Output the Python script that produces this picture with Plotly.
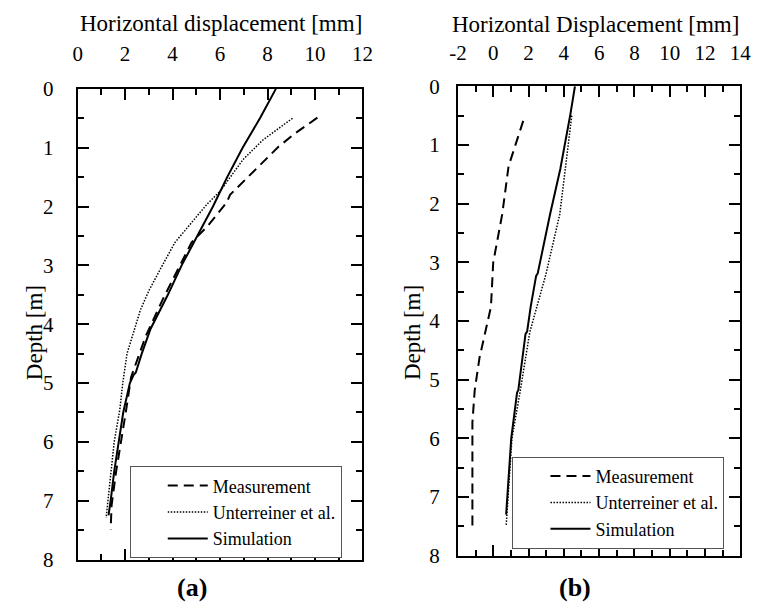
import plotly.graph_objects as go

# ---- Panel (a) data: depth [m] vs horizontal displacement [mm] ----
a_meas_depth = [0.49, 0.76, 0.98, 1.36, 1.80, 1.93, 2.34, 2.61, 3.16, 3.59, 4.20, 4.90, 5.44, 6.04, 6.53, 7.08, 7.49]
a_meas_disp = [10.1, 9.15, 8.47, 7.51, 6.42, 6.28, 5.46, 4.80, 4.10, 3.57, 2.87, 2.25, 2.05, 1.80, 1.61, 1.43, 1.39]

a_unt_depth = [0.50, 0.87, 1.20, 1.74, 1.96, 2.61, 3.05, 3.43, 3.75, 4.08, 4.50, 5.00, 5.44, 6.00, 6.53, 7.08, 7.29]
a_unt_disp = [9.05, 7.80, 6.97, 6.00, 5.45, 4.10, 3.50, 3.00, 2.65, 2.40, 2.08, 1.90, 1.78, 1.54, 1.41, 1.26, 1.20]

a_sim_depth = [0.0, 0.5, 1.0, 1.5, 2.0, 2.5, 3.0, 3.5, 3.84, 4.08, 4.5, 4.82, 4.86, 5.0, 5.5, 6.0, 6.5, 7.0, 7.25]
a_sim_disp = [8.35, 7.68, 6.95, 6.30, 5.70, 5.05, 4.38, 3.80, 3.36, 3.07, 2.70, 2.45, 2.36, 2.20, 1.92, 1.72, 1.54, 1.39, 1.30]

# ---- Panel (b) data ----
b_meas_depth = [0.59, 1.36, 2.18, 3.00, 3.76, 4.19, 4.63, 5.18, 5.73, 7.50]
b_meas_disp = [1.70, 0.87, 0.51, 0.00, -0.13, -0.45, -0.78, -1.05, -1.18, -1.18]

b_unt_depth = [0.50, 1.41, 2.18, 3.21, 3.76, 4.19, 5.21, 6.00, 7.50]
b_unt_disp = [4.45, 4.08, 3.77, 2.98, 2.49, 2.07, 1.52, 1.06, 0.73]

b_sim_depth = [0.0, 0.48, 1.41, 2.18, 3.19, 3.23, 3.76, 4.18, 4.22, 5.18, 5.22, 6.00, 7.30]
b_sim_disp = [4.63, 4.37, 3.80, 3.22, 2.52, 2.43, 2.12, 1.92, 1.83, 1.42, 1.35, 1.02, 0.73]

series_names = ["Measurement", "Unterreiner et al.", "Simulation"]

# axis ranges and tick labels
a_xrange = [0, 12]
b_xrange = [-2, 14]
a_xticks = [0, 2, 4, 6, 8, 10, 12]
b_xticks = [-2, 0, 2, 4, 6, 8, 10, 12, 14]
depth_range = [8, 0]
depth_ticks = [0, 1, 2, 3, 4, 5, 6, 7, 8]

SERIF = "Liberation Serif"
W, H = 764, 611

dash_style = "10px,6px"
dot_style = "1.5px,1.5px"

fig = go.Figure()

def add_panel(meas_d, meas_x, unt_d, unt_x, sim_d, sim_x, xa, ya, legend):
    fig.add_trace(go.Scatter(x=meas_x, y=meas_d, mode="lines", name=series_names[0],
                             line=dict(color="black", width=2, dash=dash_style),
                             xaxis=xa, yaxis=ya, legend=legend))
    fig.add_trace(go.Scatter(x=unt_x, y=unt_d, mode="lines", name=series_names[1],
                             line=dict(color="black", width=1.5, dash=dot_style),
                             xaxis=xa, yaxis=ya, legend=legend))
    fig.add_trace(go.Scatter(x=sim_x, y=sim_d, mode="lines", name=series_names[2],
                             line=dict(color="black", width=2),
                             xaxis=xa, yaxis=ya, legend=legend))

add_panel(a_meas_depth, a_meas_disp, a_unt_depth, a_unt_disp, a_sim_depth, a_sim_disp, "x", "y", "legend")
add_panel(b_meas_depth, b_meas_disp, b_unt_depth, b_unt_disp, b_sim_depth, b_sim_disp, "x2", "y2", "legend2")

def tick_text(vals):
    # plain hyphen for negative numbers
    return [str(v) for v in vals]

TICK_FONT = dict(family=SERIF, size=21, color="black")

def xaxis_style(rng, ticks, domain, anchor, standoff):
    return dict(range=rng, domain=domain, anchor=anchor, side="top",
                showline=True, linecolor="black", linewidth=2, mirror="allticks",
                ticks="inside", ticklen=11, tickwidth=2, tickcolor="black",
                tickmode="array", tickvals=ticks, ticktext=tick_text(ticks),
                showgrid=False, zeroline=False,
                ticklabelstandoff=standoff, tickfont=TICK_FONT,
                minor=dict(ticks="inside", ticklen=6, tickwidth=1.5, dtick=1, tick0=0,
                           tickcolor="black", showgrid=False))

def yaxis_style(domain, anchor, standoff):
    return dict(range=depth_range, domain=domain, anchor=anchor,
                showline=True, linecolor="black", linewidth=2, mirror="allticks",
                ticks="inside", ticklen=11, tickwidth=2, tickcolor="black",
                tickmode="array", tickvals=depth_ticks, ticktext=tick_text(depth_ticks),
                showgrid=False, zeroline=False,
                ticklabelstandoff=standoff, tickfont=TICK_FONT,
                minor=dict(ticks="inside", ticklen=6, tickwidth=1.5, dtick=0.5, tick0=0,
                           tickcolor="black", showgrid=False))

a_dom_x = [70.5 / W, 363 / W]
a_dom_y = [1 - 570 / H, 1 - 80 / H]
b_dom_x = [461 / W, 751 / W]
b_dom_y = [1 - 566 / H, 1 - 77.3 / H]

legend_style = dict(bgcolor="white", bordercolor="#555", borderwidth=1,
                    font=dict(family=SERIF, size=18, color="black"),
                    xanchor="left", yanchor="top", tracegroupgap=0,
                    indentation=32, itemwidth=40)

fig.update_layout(
    width=W, height=H,
    margin=dict(l=0, r=0, t=0, b=0),
    paper_bgcolor="white", plot_bgcolor="white",
    xaxis=xaxis_style(a_xrange, a_xticks, a_dom_x, "y", 17),
    yaxis=yaxis_style(a_dom_y, "x", 18),
    xaxis2=xaxis_style(b_xrange, b_xticks, b_dom_x, "y2", 16),
    yaxis2=yaxis_style(b_dom_y, "x2", 12),
    legend=dict(x=124 / W, y=1 - 473 / H, **legend_style),
    legend2=dict(x=517 / W, y=1 - 463 / H, **legend_style),
    showlegend=True,
)

annotations = [
    dict(text="Horizontal displacement [mm]", x=218 / W, y=1 - 12 / H),
    dict(text="Horizontal Displacement [mm]", x=602 / W, y=1 - 13 / H),
]
for ann in annotations:
    fig.add_annotation(xref="paper", yref="paper", showarrow=False,
                       xanchor="center", yanchor="middle",
                       font=dict(family=SERIF, size=23, color="black"), **ann)

for xpos in (27, 415):
    fig.add_annotation(text="Depth [m]", xref="paper", yref="paper", x=xpos / W, y=1 - 334 / H,
                       showarrow=False, textangle=-90, xanchor="center", yanchor="middle",
                       font=dict(family=SERIF, size=23, color="black"))

for label, xpos in (("(a)", 188), ("(b)", 581)):
    fig.add_annotation(text="<b>" + label + "</b>", xref="paper", yref="paper", x=xpos / W, y=1 - 599 / H,
                       showarrow=False, xanchor="center", yanchor="middle",
                       font=dict(family=SERIF, size=26, color="black"))

fig.write_html("out.html")
